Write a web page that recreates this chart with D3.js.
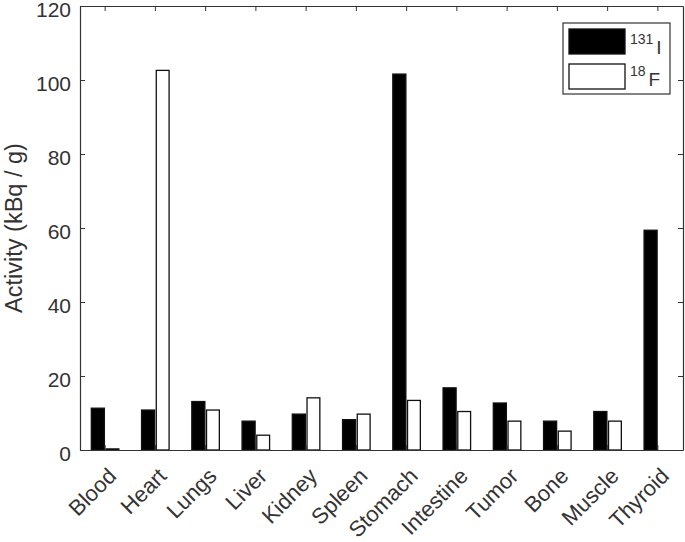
<!DOCTYPE html>
<html>
<head>
<meta charset="utf-8">
<script src="https://cdn.jsdelivr.net/npm/d3@7"></script>
<style>
  body { margin: 0; background: #fff; }
  svg text { font-family: "Liberation Sans", Arial, sans-serif; fill: #333; }
  .axis path, .axis line { stroke: #333; }
</style>
</head>
<body>
<div id="chart"></div>
<script>
var organs = ["Blood", "Heart", "Lungs", "Liver", "Kidney", "Spleen", "Stomach",
              "Intestine", "Tumor", "Bone", "Muscle", "Thyroid"];
var iodine = [11.3, 10.8, 13.1, 7.8, 9.7, 8.2, 101.6, 16.8, 12.7, 7.8, 10.4, 59.4];
var fluorine = [0.3, 102.6, 10.8, 4.0, 14.1, 9.7, 13.4, 10.4, 7.8, 5.1, 7.8, 0];
var yTicks = [0, 20, 40, 60, 80, 100, 120];

var v = 685,
    h = 542,
    margin = {top: 6, bottom: 92, left: 80, right: 2};
var width = v - margin.left - margin.right,
    height = h - margin.top - margin.bottom;

var svg = d3.select("#chart").append("svg")
    .attr("width", v)
    .attr("height", h);

var chart = svg.append("g")
    .attr("transform", "translate(" + margin.left + "," + margin.top + ")");

var x = d3.scaleBand()
        .domain(organs)
        .range([0, width])
        .padding(0),
    y = d3.scaleLinear()
        .domain([0, 120])
        .range([height, 0]);

// two bars per organ, black left of the tick, white right of it
var bw = x.bandwidth();
var series = [
    {name: "131", sym: "I", values: iodine, fill: "#000", off: -0.275, w: 0.26},
    {name: "18", sym: "F", values: fluorine, fill: "#fff", off: 0.018, w: 0.255}
];

series.forEach(function (s) {
    chart.append("g")
        .selectAll("rect")
        .data(s.values)
        .enter()
        .append("rect")
        .attr("x", function (d, i) { return x(organs[i]) + bw / 2 + s.off * bw; })
        .attr("y", function (d) { return y(d); })
        .attr("width", s.w * bw)
        .attr("height", function (d) { return height - y(d); })
        .style("fill", s.fill)
        .style("stroke", "#111")
        .style("stroke-width", 1.3);
});

// box axes, ticks pointing inward
chart.append("g")
    .classed("axis", true)
    .attr("transform", "translate(0," + height + ")")
    .call(d3.axisBottom(x).tickSizeInner(-5).tickSizeOuter(0).tickPadding(0))
    .selectAll("text")
    .style("font-size", "22px")
    .style("text-anchor", "end")
    .attr("y", 0)
    .attr("dy", "0.35em")
    .attr("transform", "translate(7,22) rotate(-45)");

chart.append("g")
    .classed("axis", true)
    .call(d3.axisTop(x).tickSizeInner(-5).tickSizeOuter(0).tickFormat(""));

chart.append("g")
    .classed("axis", true)
    .call(d3.axisLeft(y).tickValues(yTicks).tickSizeInner(-5).tickSizeOuter(0).tickPadding(9))
    .selectAll("text")
    .style("font-size", "21px")
    .attr("dy", "0.5em");

chart.append("g")
    .classed("axis", true)
    .attr("transform", "translate(" + width + ",0)")
    .call(d3.axisRight(y).tickValues(yTicks).tickSizeInner(-5).tickSizeOuter(0).tickFormat(""));

chart.selectAll(".axis .domain").style("stroke-width", 1.2);

// y label
svg.append("text")
    .attr("transform", "translate(22," + (margin.top + height / 2) + ") rotate(-90)")
    .style("text-anchor", "middle")
    .style("font-size", "23.5px")
    .text("Activity (kBq / g)");

// legend
var legend = svg.append("g").attr("transform", "translate(563,23)");
legend.append("rect")
    .attr("width", 107)
    .attr("height", 71)
    .style("fill", "#fff")
    .style("stroke", "#333")
    .style("stroke-width", 1.2);

var entry = legend.selectAll(".entry")
    .data(series)
    .enter()
    .append("g")
    .classed("entry", true)
    .attr("transform", function (d, i) { return "translate(6," + (6 + i * 35) + ")"; });

entry.append("rect")
    .attr("width", 56)
    .attr("height", 25)
    .style("fill", function (d) { return d.fill; })
    .style("stroke", "#111")
    .style("stroke-width", 1.3);

var lt = entry.append("text")
    .attr("x", 61)
    .attr("y", function (d, i) { return i === 0 ? 25 : 22; });
lt.append("tspan")
    .style("font-size", "14px")
    .attr("dy", -10)
    .text(function (d) { return d.name; });
lt.append("tspan")
    .style("font-size", "19px")
    .attr("dy", 10)
    .attr("dx", 3)
    .text(function (d) { return d.sym; });
</script>
</body>
</html>
